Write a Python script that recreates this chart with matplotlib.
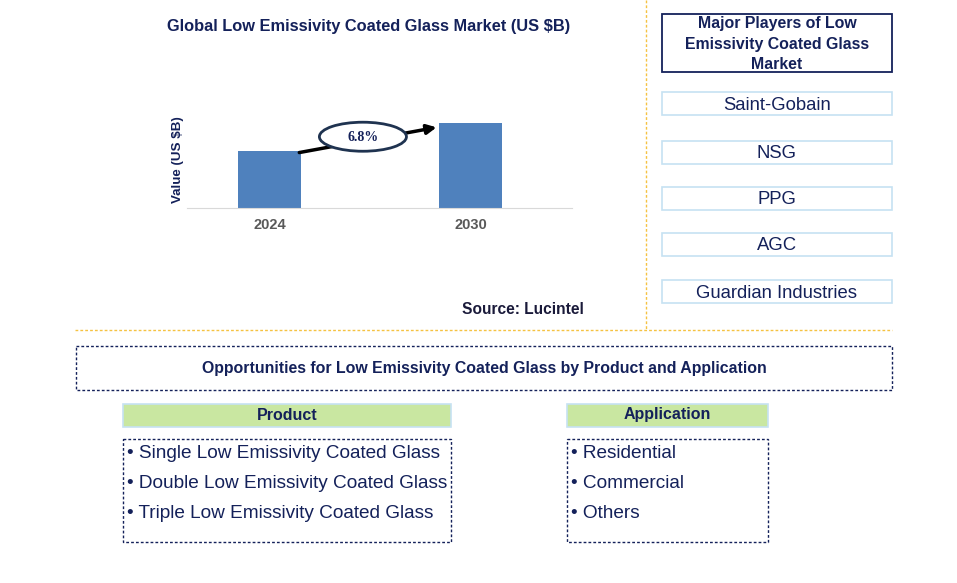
import matplotlib.pyplot as plt
from matplotlib.patches import Rectangle, Ellipse

plt.rcParams['font.family'] = ['Liberation Sans', 'DejaVu Sans']

# data
years = ['2024', '2030']
values = [2.4, 3.6]
cagr = '6.8%'
players = ['Saint-Gobain', 'NSG', 'PPG', 'AGC', 'Guardian Industries']
products = ['Single Low Emissivity Coated Glass', 'Double Low Emissivity Coated Glass',
            'Triple Low Emissivity Coated Glass']
applications = ['Residential', 'Commercial', 'Others']

navy = '#14215a'
bar_color = '#4f81bd'
gold = '#f5c242'
light_blue = '#c6e2f2'
green = '#c9e7a1'

fig = plt.figure(figsize=(9.57, 5.83), dpi=100)

# background layer in pixel coords
bg = fig.add_axes([0, 0, 1, 1])
bg.set_xlim(0, 957)
bg.set_ylim(583, 0)
bg.axis('off')

bg.text(369, 27, 'Global Low Emissivity Coated Glass Market (US $B)', ha='center', va='center',
        fontsize=11.8, fontweight='bold', color=navy)
bg.text(523, 309, 'Source: Lucintel', ha='center', va='center', fontsize=11.2,
        fontweight='bold', color='#1a1a3a')

# separators
bg.plot([646, 646], [0, 330], color=gold, lw=1, ls=(0, (2, 1.5)))
bg.plot([75, 892], [330, 330], color=gold, lw=1, ls=(0, (2, 1.5)))

# major players
bg.add_patch(Rectangle((662, 14), 230, 58, fill=False, ec=navy, lw=1.3))
bg.text(777, 44, 'Major Players of Low\nEmissivity Coated Glass\nMarket', ha='center', va='center',
        fontsize=11.4, fontweight='bold', color=navy, linespacing=1.42)
player_tops = [92, 141, 187, 233, 280]
for name, top in zip(players, player_tops):
    bg.add_patch(Rectangle((662, top), 230, 23, fill=False, ec=light_blue, lw=1.2))
    bg.text(777, top + 13, name, ha='center', va='center', fontsize=13.3, color=navy)

# opportunities
bg.add_patch(Rectangle((76, 346), 816, 44, fill=False, ec=navy, lw=1, ls=(0, (2, 1.5))))
bg.text(484, 368, 'Opportunities for Low Emissivity Coated Glass by Product and Application',
        ha='center', va='center', fontsize=11.4, fontweight='bold', color=navy)

def segment(x0, width, title, items):
    bg.add_patch(Rectangle((x0, 404), width, 23, fc=green, ec=light_blue, lw=1.2))
    bg.text(x0 + width / 2, 415, title, ha='center', va='center', fontsize=11.5,
            fontweight='bold', color=navy)
    bg.add_patch(Rectangle((x0, 439), width, 103, fill=False, ec=navy, lw=1, ls=(0, (2, 1.5))))
    for i, item in enumerate(items):
        bg.text(x0 + 4, 453 + 30 * i, '\u2022 ' + item, ha='left', va='center',
                fontsize=13.7, color=navy)

segment(123, 328, 'Product', products)
segment(567, 201, 'Application', applications)

# bar chart
ax = fig.add_axes([187 / 957, (583 - 208) / 583, 385 / 957, 118 / 583])
x = range(len(years))
ax.bar(x, values, width=0.313, color=bar_color, zorder=2)
ax.set_xlim(-0.41, 1.505)
ax.set_ylim(0, 5.0)
ax.set_xticks(list(x))
ax.set_xticklabels(years, fontsize=10.5, fontweight='bold', color='#595959')
ax.tick_params(axis='x', length=0, pad=7)
ax.set_yticks([])
for s in ['top', 'right', 'left']:
    ax.spines[s].set_visible(False)
ax.spines['bottom'].set_color('#d9d9d9')
ax.set_ylabel('Value (US $B)', fontsize=9.6, fontweight='bold', color=navy)
ax.yaxis.set_label_coords(-0.008, 0.41)

ax.annotate('', xy=(1 - 0.155, values[1] * 0.955), xytext=(0.135, values[0] * 0.97),
            arrowprops=dict(arrowstyle='-|>', color='black', lw=2.5, mutation_scale=14),
            zorder=3, annotation_clip=False)
ax.add_patch(Ellipse((0.465, 3.02), 0.433, 1.23, fc='white', ec='#1f3350', lw=2,
                     zorder=4, clip_on=False))
ax.text(0.465, 3.0, cagr, ha='center', va='center', fontsize=10, fontweight='bold',
        family=['Liberation Serif', 'DejaVu Serif'], color=navy, zorder=5)

fig.savefig('out.png', dpi=100)
